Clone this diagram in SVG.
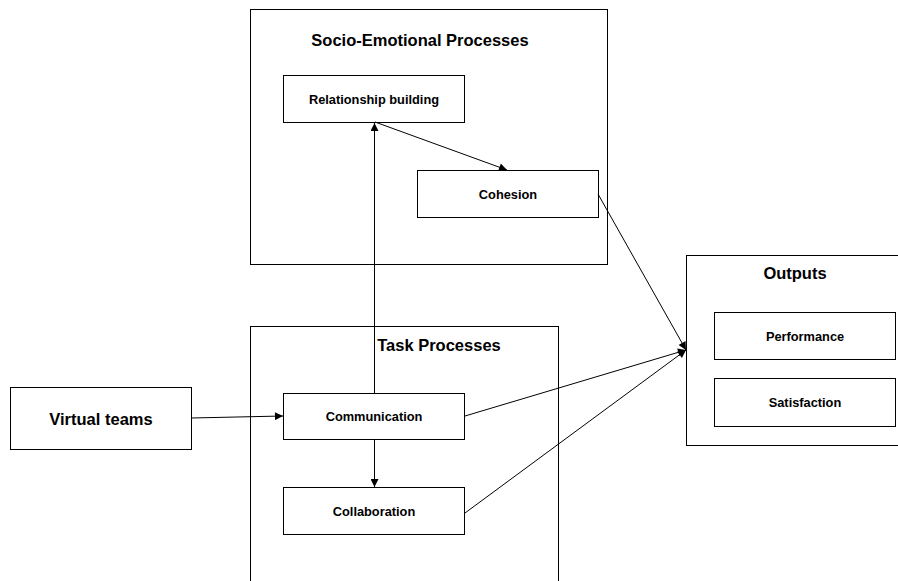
<svg xmlns="http://www.w3.org/2000/svg" width="898" height="581" viewBox="0 0 898 581">
<style>
rect{fill:#fff;stroke:#000;stroke-width:1}
text{font-family:"Liberation Sans",Arial,sans-serif;font-weight:bold;text-anchor:middle;fill:#000}
.t{font-size:16.5px}
.s{font-size:12.8px}
.c{stroke:#000;stroke-width:1;fill:none}
</style>
<defs>
<marker id="ah" viewBox="0 0 10 10" refX="10" refY="5" markerWidth="10" markerHeight="8" markerUnits="userSpaceOnUse" orient="auto">
<path d="M0,0 L10,5 L0,10 z" fill="#000"/>
</marker>
</defs>
<g id="socio">
<rect x="250.5" y="9.5" width="357" height="255"/>
<text class="t" x="420" y="46">Socio-Emotional Processes</text>
</g>
<g id="task">
<rect x="250.5" y="326.5" width="308" height="260"/>
<text class="t" x="439" y="351">Task Processes</text>
</g>
<g id="outputs">
<rect x="686.5" y="255.5" width="212" height="190"/>
<text class="t" x="795" y="279">Outputs</text>
</g>
<g id="relationship">
<rect x="283.5" y="75.5" width="181" height="47"/>
<text class="s" x="374" y="103.5">Relationship building</text>
</g>
<g id="cohesion">
<rect x="417.5" y="170.5" width="181" height="47"/>
<text class="s" x="508" y="198.5">Cohesion</text>
</g>
<g id="virtual">
<rect x="10.5" y="387.5" width="181" height="62"/>
<text class="t" x="101" y="424.5">Virtual teams</text>
</g>
<g id="communication">
<rect x="283.5" y="393.5" width="181" height="46"/>
<text class="s" x="374" y="421">Communication</text>
</g>
<g id="collaboration">
<rect x="283.5" y="487.5" width="181" height="47"/>
<text class="s" x="374" y="515.5">Collaboration</text>
</g>
<g id="performance">
<rect x="714.5" y="312.5" width="181" height="47"/>
<text class="s" x="805" y="340.5">Performance</text>
</g>
<g id="satisfaction">
<rect x="714.5" y="378.5" width="181" height="48"/>
<text class="s" x="805" y="407">Satisfaction</text>
</g>
<g id="connectors">
<line class="c" x1="374.5" y1="393" x2="374.5" y2="123" marker-end="url(#ah)"/>
<line class="c" x1="375" y1="122" x2="507" y2="170" marker-end="url(#ah)"/>
<line class="c" x1="374.5" y1="440" x2="374.5" y2="487" marker-end="url(#ah)"/>
<line class="c" x1="191" y1="418" x2="283" y2="416" marker-end="url(#ah)"/>
<line class="c" x1="598" y1="194" x2="686" y2="350" marker-end="url(#ah)"/>
<line class="c" x1="465" y1="416" x2="686" y2="350" marker-end="url(#ah)"/>
<line class="c" x1="465" y1="513" x2="686" y2="350" marker-end="url(#ah)"/>
</g>
</svg>
